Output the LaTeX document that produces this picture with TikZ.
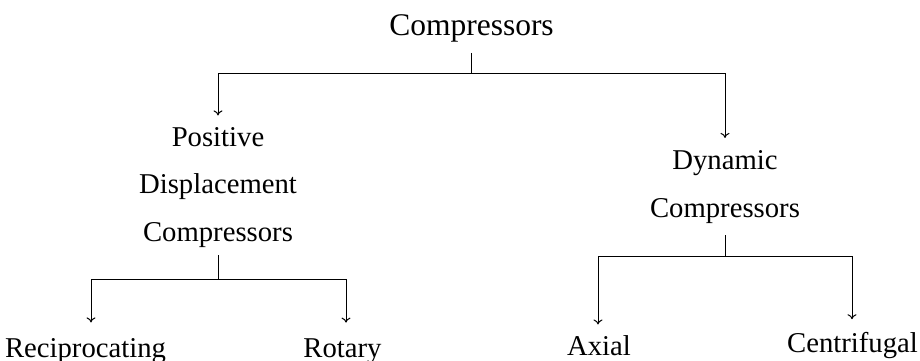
\documentclass[tikz,border=0pt]{standalone}
\usepackage{fontspec}
\setmainfont{Liberation Serif}
\usetikzlibrary{arrows.meta}
\begin{document}
\begin{tikzpicture}[x=1pt,y=-1pt,
  lbl/.style={inner sep=0pt, font=\fontsize{28.7}{47.5}\selectfont, align=center, anchor=base},
  toplbl/.style={inner sep=0pt, font=\fontsize{31.5}{38}\selectfont, anchor=base},
  conn/.style={line width=1pt},
  arr/.style={conn, -{To[length=5pt,width=9pt]}}]
\useasboundingbox (0,0) rectangle (920,360);
\node[toplbl] (comp) at (471.5,35) {Compressors};
\node[lbl] (pdc) at (218,241) {Positive\\Displacement\\Compressors};
\node[lbl] (dyn) at (725,217) {Dynamic\\Compressors};
\node[lbl] (rec) at (85.5,357) {Reciprocating};
\node[lbl] (rot) at (342.5,357) {Rotary};
\node[lbl] (axi) at (599,355) {Axial};
\node[lbl] (cen) at (852.5,352) {Centrifugal};
\coordinate (c1) at (471.5,73);
\coordinate (p1) at (218,279);
\coordinate (d1) at (725,256);
\draw[conn, shorten <=11pt] (comp.south) -- (c1);
\draw[arr, shorten >=11.4pt] (c1) -| (pdc.north);
\draw[arr, shorten >=12.4pt] (c1) -| (dyn.north);
\draw[conn, shorten <=8pt] (pdc.south) -- (p1);
\draw[arr, shorten >=15.4pt] (p1) -| ([xshift=5.5pt]rec.north);
\draw[arr, shorten >=15.4pt] (p1) -| ([xshift=3.5pt]rot.north);
\draw[conn, shorten <=12pt] (dyn.south) -- (d1);
\draw[arr, shorten >=10.4pt] (d1) -| ([xshift=-1pt]axi.north);
\draw[arr, shorten >=12.4pt] (d1) -| ([xshift=-0.5pt]cen.north);
\end{tikzpicture}
\end{document}
